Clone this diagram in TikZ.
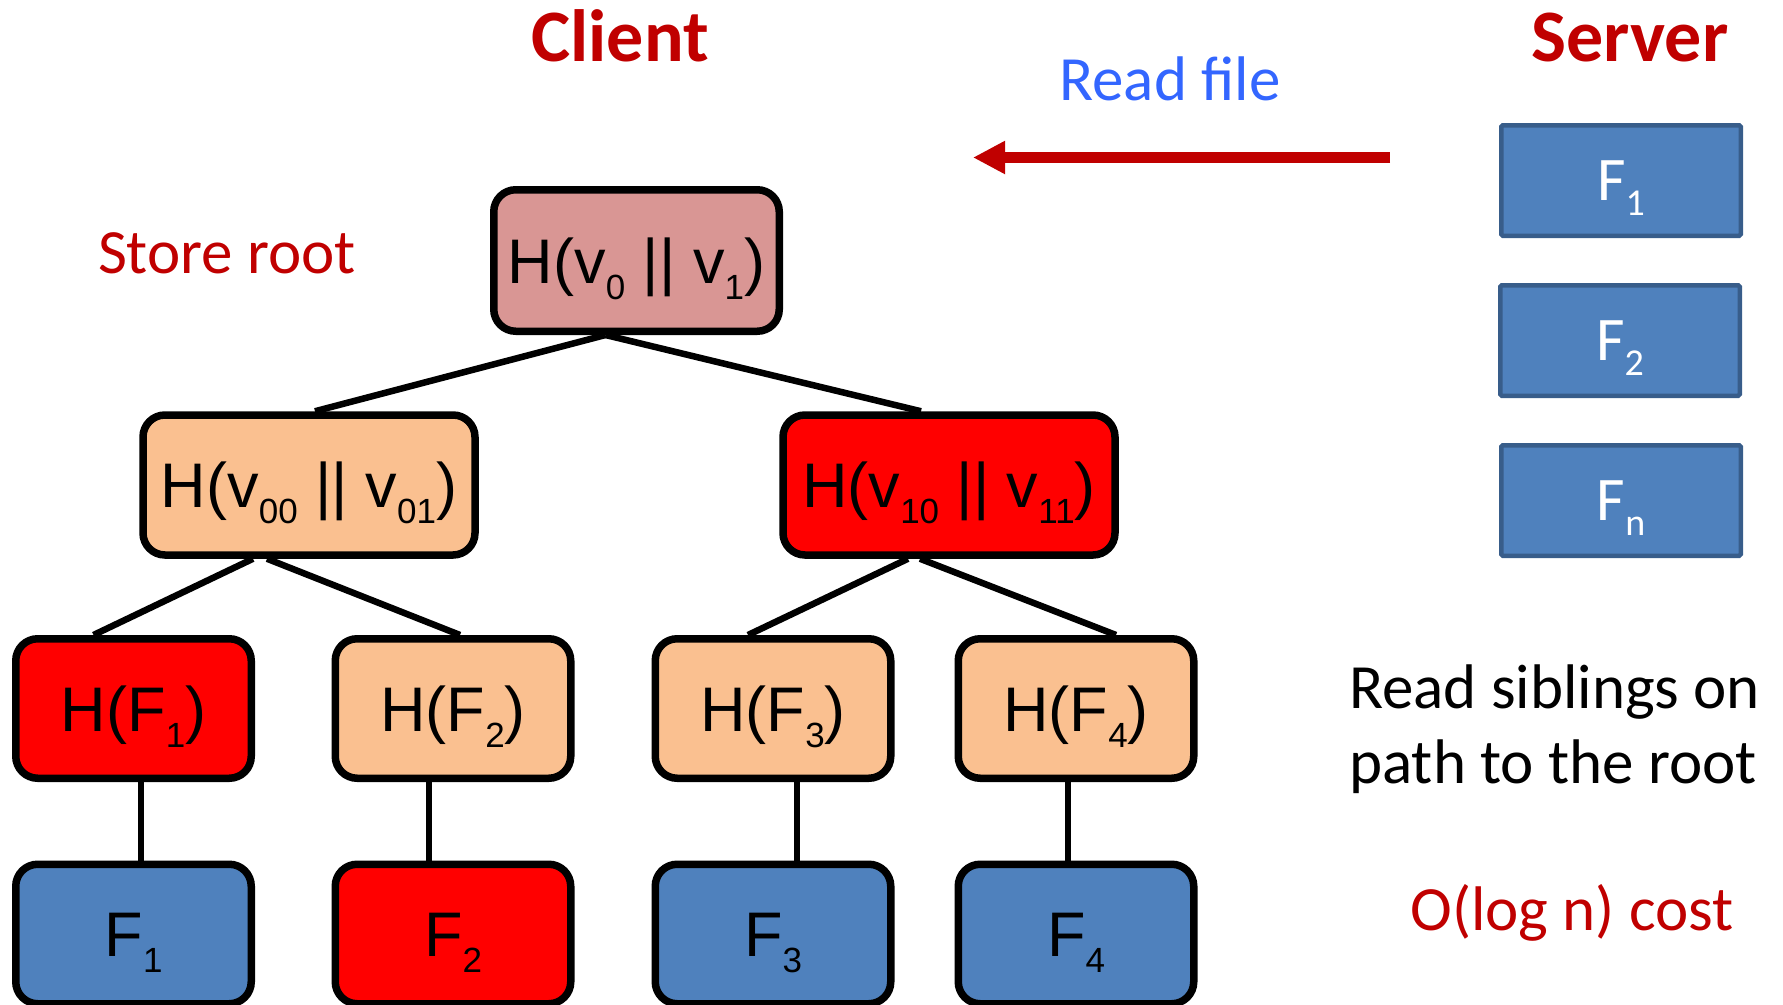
\documentclass[tikz,border=0pt]{standalone}
\usepackage{fontspec}
\setmainfont{Carlito}
\newfontfamily\arialfont{Liberation Sans}
\usetikzlibrary{arrows.meta,backgrounds}

\definecolor{darkred}{HTML}{C00000}
\definecolor{readblue}{HTML}{3366FF}
\definecolor{rootpink}{HTML}{D99694}
\definecolor{peach}{HTML}{FAC090}
\definecolor{hotred}{HTML}{FF0000}
\definecolor{fileblue}{HTML}{4F81BD}
\definecolor{fileedge}{HTML}{385D8A}

% lowered subscripts for the tree labels and the server file labels
\newcommand{\tsub}[1]{\raisebox{-16pt}{\fontsize{35}{35}\selectfont #1}}
\newcommand{\ssub}[1]{\raisebox{-15pt}{\fontsize{38}{38}\selectfont #1}}

\tikzset{
  hashbox/.style={draw=black, line width=7.5pt, rounded corners=22pt,
    inner sep=0pt, text=black, text height=45pt, text depth=0pt,
    font=\arialfont\fontsize{63}{63}\selectfont},
  rootbox/.style={hashbox, fill=rootpink, minimum width=285.5pt, minimum height=141.5pt},
  midbox/.style={hashbox, minimum width=332pt, minimum height=140pt},
  leafbox/.style={hashbox, minimum width=235.5pt, minimum height=139.5pt},
  srvbox/.style={draw=fileedge, line width=4.5pt, fill=fileblue, rounded corners=1.5pt,
    minimum width=239.5pt, minimum height=110.5pt, inner sep=0pt,
    text=white, text height=40pt, text depth=0pt,
    font=\fontsize{62}{62}\selectfont},
  label/.style={inner sep=0pt, font=\fontsize{63}{63}\selectfont},
  title/.style={inner sep=0pt, text=darkred, font=\bfseries\fontsize{74}{74}\selectfont},
  edge/.style={draw=black, line width=6.5pt},
  readarrow/.style={draw=darkred, line width=11pt, -{Triangle[length=32pt,width=31pt]}}
}

\begin{document}
\begin{tikzpicture}[x=1pt,y=-1pt]
\useasboundingbox (0,0) rectangle (1783,1004);
\clip (0,0) rectangle (1783,1004);

% headings and captions
\node[title, anchor=base] (client) at (620,61) {Client};
\node[title, anchor=base] (server) at (1630,61) {Server};
\node[label, anchor=base, text=readblue] (readfile) at (1170,100) {Read file};
\node[label, anchor=base, text=darkred] (storeroot) at (227,273) {Store root};
\node[label, anchor=base west, text=black] (sib1) at (1349,708) {Read siblings on};
\node[label, anchor=base west, text=black] (sib2) at (1349,783) {path to the root};
\node[label, anchor=base, text=darkred] (cost) at (1572,930) {O(log n) cost};

% files held by the server
\node[srvbox] (s1) at (1621,180.5) {F\ssub{1}};
\node[srvbox] (s2) at (1620,340.5) {F\ssub{2}};
\node[srvbox] (sn) at (1621,500.5) {F\ssub{n}};

% transfer arrow
\coordinate (rfstart) at (1390,157.5);
\coordinate (rfend) at (973,157.5);
\draw[readarrow] (rfstart) -- (rfend);

% Merkle tree
\node[rootbox] (root) at (636.5,260.5) {H(v\tsub{0} || v\tsub{1})};
\node[midbox, fill=peach] (l1a) at (309,485) {H(v\tsub{00} || v\tsub{01})};
\node[midbox, fill=hotred] (l1b) at (949,485) {H(v\tsub{10} || v\tsub{11})};

\node[leafbox, fill=hotred] (h1) at (133.5,708.5) {H(F\tsub{1})};
\node[leafbox, fill=peach] (h2) at (453,708.5) {H(F\tsub{2})};
\node[leafbox, fill=peach] (h3) at (773,708.5) {H(F\tsub{3})};
\node[leafbox, fill=peach] (h4) at (1076,708.5) {H(F\tsub{4})};

\node[leafbox, fill=fileblue] (f1) at (133.5,934) {F\tsub{1}};
\node[leafbox, fill=hotred] (f2) at (453,934) {F\tsub{2}};
\node[leafbox, fill=fileblue] (f3) at (773,934) {F\tsub{3}};
\node[leafbox, fill=fileblue] (f4) at (1076,934) {F\tsub{4}};

\begin{scope}[on background layer]
  \draw[edge] ([xshift=-31pt]root.south) -- ([xshift=6pt]l1a.north);
  \draw[edge] ([xshift=-31pt]root.south) -- ([xshift=-28pt]l1b.north);
  \draw[edge] ([xshift=-56pt]l1a.south) -- ([xshift=-40pt]h1.north);
  \draw[edge] ([xshift=-42pt]l1a.south) -- ([xshift=7pt]h2.north);
  \draw[edge] ([xshift=-41pt]l1b.south) -- ([xshift=-25pt]h3.north);
  \draw[edge] ([xshift=-29pt]l1b.south) -- ([xshift=40pt]h4.north);
  \draw[edge] ([xshift=7.5pt]h1.south) -- ([xshift=7.5pt]f1.north);
  \draw[edge] ([xshift=-24pt]h2.south) -- ([xshift=-24pt]f2.north);
  \draw[edge] ([xshift=24pt]h3.south) -- ([xshift=24pt]f3.north);
  \draw[edge] ([xshift=-8pt]h4.south) -- ([xshift=-8pt]f4.north);
\end{scope}
\end{tikzpicture}
\end{document}
